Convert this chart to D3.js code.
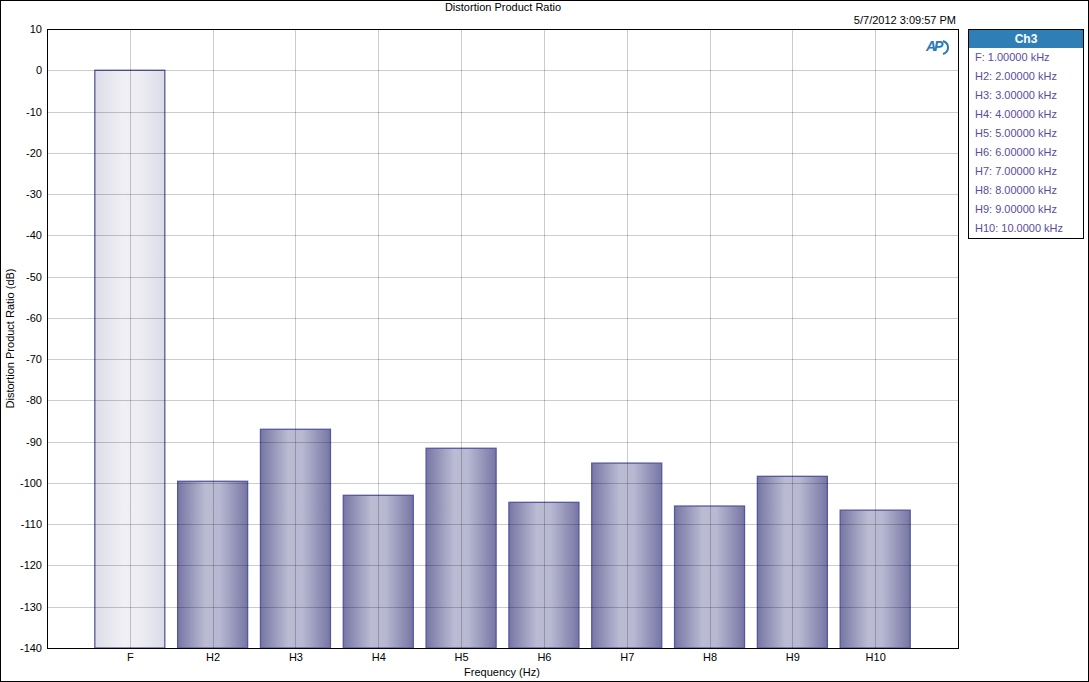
<!DOCTYPE html>
<html><head><meta charset="utf-8">
<script src="https://cdn.jsdelivr.net/npm/d3@7"></script>
<style>body{margin:0;background:#fff}svg{display:block;font-family:"Liberation Sans",Arial,sans-serif}</style>
</head><body><svg id="c" width="1089" height="682"></svg>
<script>
const categories = ["F","H2","H3","H4","H5","H6","H7","H8","H9","H10"];
const values = [0,-99.6,-87.0,-103.0,-91.6,-104.7,-95.2,-105.6,-98.4,-106.6];
const yTicks = [10,0,-10,-20,-30,-40,-50,-60,-70,-80,-90,-100,-110,-120,-130,-140];
const legendLabels = ["F: 1.00000 kHz","H2: 2.00000 kHz","H3: 3.00000 kHz","H4: 4.00000 kHz","H5: 5.00000 kHz","H6: 6.00000 kHz","H7: 7.00000 kHz","H8: 8.00000 kHz","H9: 9.00000 kHz","H10: 10.0000 kHz"];
const legendTitle = "Ch3";

const svg = d3.select("#c");
const L=47, T=29, R=958, B=648;
const y = d3.scaleLinear().domain([-140,10]).range([B,T]);
const x = d3.scaleLinear().domain([0,categories.length+1]).range([L,R]);
const step = x(1)-x(0), bw = step*0.845;

const defs = svg.append("defs");
function grad(id, stops){
  const g = defs.append("linearGradient").attr("id",id).attr("x1","0%").attr("x2","100%").attr("y1","0%").attr("y2","0%");
  stops.forEach(s=>g.append("stop").attr("offset",s[0]).attr("stop-color",s[1]));
}
grad("gF",[[0,"#dddde9"],[0.4,"#efeff4"],[0.6,"#eeeef3"],[1,"#dcdce8"]]);
grad("gH",[[0,"#7676a4"],[0.4,"#bbbbd4"],[0.6,"#b8b8d2"],[1,"#7676a4"]]);

// outer border
svg.append("rect").attr("x",0.5).attr("y",0.5).attr("width",1088).attr("height",681).attr("fill","none").attr("stroke","#000");

// bars
svg.append("g").selectAll("rect").data(values).join("rect")
  .attr("x",(d,i)=>x(i+1)-bw/2).attr("width",bw)
  .attr("y",d=>y(d)).attr("height",d=>y(-140)-y(d))
  .attr("fill",(d,i)=>i===0?"url(#gF)":"url(#gH)")
  .attr("stroke","#5757a0").attr("stroke-width",1.3);

// grid on top (semi-transparent)
const grid = svg.append("g").attr("stroke","rgba(0,0,0,0.2)").attr("stroke-width",1);
yTicks.forEach(t=>{ if(t>-140 && t<10) grid.append("line").attr("x1",L).attr("x2",R).attr("y1",Math.round(y(t))+0.5).attr("y2",Math.round(y(t))+0.5); });
categories.forEach((c,i)=>grid.append("line").attr("x1",Math.round(x(i+1))+0.5).attr("x2",Math.round(x(i+1))+0.5).attr("y1",T).attr("y2",B));

// plot frame
svg.append("rect").attr("x",L+0.5).attr("y",T+0.5).attr("width",R-L).attr("height",B-T).attr("fill","none").attr("stroke","#000");

// axes
const yAxis = d3.axisLeft(y).tickValues(yTicks).tickFormat(d=>String(d)).tickSize(0).tickPadding(5);
const gy = svg.append("g").attr("transform",`translate(${L},0)`).call(yAxis);
gy.select(".domain").remove();
gy.selectAll("text").attr("font-size",11).attr("fill","#000").attr("font-family","Liberation Sans, Arial");

const xAxis = d3.axisBottom(x).tickValues(d3.range(1,categories.length+1)).tickFormat(d=>categories[d-1]).tickSize(0).tickPadding(5);
const gx = svg.append("g").attr("transform",`translate(0,${B})`).call(xAxis);
gx.select(".domain").remove();
gx.selectAll("text").attr("font-size",11).attr("fill","#000").attr("font-family","Liberation Sans, Arial");

// titles
svg.append("text").attr("x",503).attr("y",11).attr("text-anchor","middle").attr("font-size",11).text("Distortion Product Ratio");
svg.append("text").attr("x",956).attr("y",24).attr("text-anchor","end").attr("font-size",11).text("5/7/2012 3:09:57 PM");
svg.append("text").attr("x",502).attr("y",676).attr("text-anchor","middle").attr("font-size",11).text("Frequency (Hz)");
svg.append("text").attr("transform",`translate(14,${(T+B)/2}) rotate(-90)`).attr("text-anchor","middle").attr("font-size",11).text("Distortion Product Ratio (dB)");

// AP logo
const logo = svg.append("g").attr("transform","translate(926,40)");
logo.append("text").attr("x",0).attr("y",11).attr("font-size",14).attr("font-weight","bold").attr("font-style","italic").attr("fill","#2a79b8").attr("letter-spacing",-2).text("AP");
logo.append("path").attr("d","M17,1 A8,7 0 0 1 17,14").attr("fill","none").attr("stroke","#2a79b8").attr("stroke-width",2);

// legend
const lg = svg.append("g");
lg.append("rect").attr("x",968.5).attr("y",29.5).attr("width",115).attr("height",209).attr("fill","#fff").attr("stroke","#000");
lg.append("rect").attr("x",969).attr("y",30).attr("width",114).attr("height",18).attr("fill","#2f7fb6");
lg.append("text").attr("x",1026).attr("y",43).attr("text-anchor","middle").attr("font-size",12).attr("font-weight","bold").attr("fill","#fff").text(legendTitle);
lg.selectAll("text.it").data(legendLabels).join("text").attr("class","it")
  .attr("x",975).attr("y",(d,i)=>61+i*19).attr("font-size",11).attr("fill","#5a4c9c").text(d=>d);
</script></body></html>
